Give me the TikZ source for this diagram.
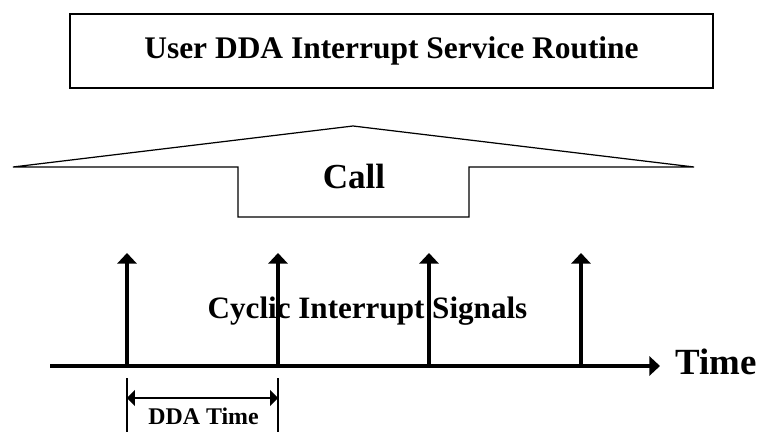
\documentclass[tikz,border=0pt]{standalone}
\usepackage{fontspec}
\setmainfont{Liberation Serif}
\usetikzlibrary{arrows.meta,positioning}
\begin{document}
\begin{tikzpicture}[x=0.02cm, y=-0.02cm,
      every node/.style={inner sep=0pt, font=\bfseries},
      isrbox/.style={draw, line width=1.2pt, minimum width=12.86cm, minimum height=1.48cm},
      outline/.style={line width=0.7pt, line join=miter},
      axisline/.style={line width=2pt, -{Triangle[width=10.8pt,length=6pt]}},
      pulse/.style={line width=1.9pt, -{Triangle[width=10.8pt,length=6pt]}},
      tickline/.style={line width=1.1pt},
      dimline/.style={line width=1.1pt, {Triangle[width=9pt,length=4.5pt]}-{Triangle[width=9pt,length=4.5pt]}},]
    \useasboundingbox (0,0) rectangle (761,432);
    % service routine
    \node[isrbox, font=\bfseries\fontsize{17.9}{21}\selectfont] (isr) at (391.5,51) {User DDA Interrupt Service Routine};
    % call arrow
    \coordinate (cl) at (13,167);
    \coordinate (cp) at (353,126);
    \coordinate (cr) at (694,167);
    \coordinate (nl) at (238,167);
    \coordinate (nlb) at (238,217);
    \coordinate (nrb) at (469,217);
    \coordinate (nr) at (469,167);
    \draw[outline] (cl) -- (cp) -- (cr) -- (nr) -- (nrb) -- (nlb) -- (nl) -- cycle;
    \node[anchor=base, font=\bfseries\fontsize{20}{24}\selectfont] (call) at (354,189) {Call};
    % time axis
    \node[anchor=base, font=\bfseries\fontsize{17.7}{21}\selectfont] (cyclic) at (367.5,318) {Cyclic Interrupt Signals};
    \coordinate (t0) at (50,366);
    \coordinate (t1) at (660,366);
    \draw[axisline] (t0) -- (t1);
    \node[anchor=base west, font=\bfseries\fontsize{21}{25}\selectfont] (time) at (675,375) {Time};
    \foreach \n/\x in {1/127,2/278,3/429,4/581} {
      \coordinate (p\n) at (\x,366);
      \coordinate (q\n) at (\x,253);
      \draw[pulse] (p\n) -- (q\n);
    }
    % dda time
    \coordinate (d1) at (127,378);
    \coordinate (d1b) at (127,432);
    \coordinate (d2) at (278,378);
    \coordinate (d2b) at (278,432);
    \coordinate (a1) at (127,398);
    \coordinate (a2) at (278,398);
    \draw[tickline] (d1) -- (d1b);
    \draw[tickline] (d2) -- (d2b);
    \draw[dimline] (a1) -- (a2);
    \node[anchor=base, font=\bfseries\fontsize{13.6}{16}\selectfont] (dda) at (203.5,424) {DDA Time};
\end{tikzpicture}
\end{document}
